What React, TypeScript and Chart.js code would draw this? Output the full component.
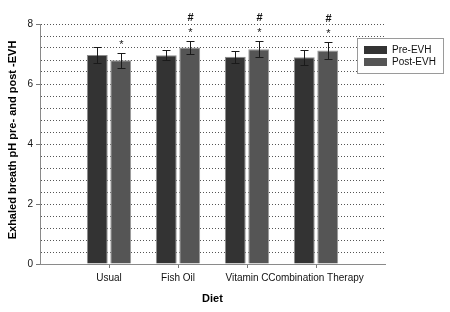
import React, { useEffect, useRef } from "react";
import { Chart, registerables } from "chart.js";

Chart.register(...registerables);

const categories = ["Usual", "Fish Oil", "Vitamin C", "Combination Therapy"];
const preEVH = [6.97, 6.96, 6.91, 6.89];
const postEVH = [6.79, 7.22, 7.16, 7.12];
const preErr = [0.26, 0.17, 0.2, 0.26];
const postErr = [0.26, 0.21, 0.26, 0.29];
const postStar = [true, true, true, true];
const postHash = [false, true, true, true];
const yTickLabels = [0, 2, 4, 6, 8];
const seriesNames = ["Pre-EVH", "Post-EVH"];
const xTitle = "Diet";
const yTitle = "Exhaled breath pH pre- and post -EVH";

const FONT = "'Liberation Sans', Arial, sans-serif";

export default function App() {
  const ref = useRef<HTMLCanvasElement | null>(null);

  useEffect(() => {
    document.body.style.margin = "0";
    const canvas = ref.current;
    if (!canvas) return;

    const labels = ["", ...categories, ""];
    const pad = (a: any[]) => [null, ...a, null];
    const errs = [pad(preErr), pad(postErr)];

    const overlay = {
      id: "overlay",
      afterDatasetsDraw(chart: any) {
        const ctx = chart.ctx;
        const y = chart.scales.y;
        ctx.save();
        chart.data.datasets.forEach((ds: any, di: number) => {
          const meta = chart.getDatasetMeta(di);
          meta.data.forEach((el: any, i: number) => {
            const v = ds.data[i];
            const e = errs[di][i];
            if (v == null || e == null) return;
            const x = Math.round(el.x) + 0.5;
            const yt = Math.round(y.getPixelForValue(v + e)) + 0.5;
            const yb = Math.round(y.getPixelForValue(v - e)) + 0.5;
            ctx.strokeStyle = "#1a1a1a";
            ctx.lineWidth = 1;
            ctx.beginPath();
            ctx.moveTo(x, yt);
            ctx.lineTo(x, yb);
            ctx.moveTo(x - 4, yt);
            ctx.lineTo(x + 4, yt);
            ctx.moveTo(x - 4, yb);
            ctx.lineTo(x + 4, yb);
            ctx.stroke();
            if (di === 1) {
              const k = i - 1;
              ctx.fillStyle = "#111";
              ctx.textAlign = "center";
              ctx.textBaseline = "middle";
              if (postStar[k]) {
                ctx.font = `11px ${FONT}`;
                ctx.fillText("*", x, yt - 9);
              }
              if (postHash[k]) {
                ctx.font = `bold 11px ${FONT}`;
                ctx.fillText("#", x, yt - 24);
              }
            }
          });
        });
        const ca = chart.chartArea;
        ctx.fillStyle = "#000";
        ctx.font = `bold 11px ${FONT}`;
        ctx.textAlign = "center";
        ctx.textBaseline = "middle";
        ctx.fillText(xTitle, (ca.left + ca.right) / 2, 299);
        ctx.save();
        ctx.translate(12.5, 140);
        ctx.rotate(-Math.PI / 2);
        ctx.fillText(yTitle, 0, 0);
        ctx.restore();
        const lx = 357.5, ly = 38.5, lw = 86, lh = 35;
        ctx.fillStyle = "#fff";
        ctx.fillRect(lx, ly, lw, lh);
        ctx.strokeStyle = "#9a9a9a";
        ctx.lineWidth = 1;
        ctx.strokeRect(lx, ly, lw, lh);
        chart.data.datasets.forEach((ds: any, di: number) => {
          const sy = 46 + di * 12;
          ctx.fillStyle = ds.backgroundColor;
          ctx.fillRect(364, sy, 23, 8);
          ctx.fillStyle = "#111";
          ctx.font = `10px ${FONT}`;
          ctx.textAlign = "left";
          ctx.textBaseline = "middle";
          ctx.fillText(ds.label, 392, sy + 4.5);
        });
        ctx.restore();
      },
    };

    const chart = new Chart(canvas, {
      type: "bar",
      data: {
        labels,
        datasets: [
          {
            label: seriesNames[0],
            data: pad(preEVH),
            backgroundColor: "#333333",
            borderColor: "#8c8c8c",
            borderWidth: 1,
          },
          {
            label: seriesNames[1],
            data: pad(postEVH),
            backgroundColor: "#555555",
            borderColor: "#999999",
            borderWidth: 1,
          },
        ],
      },
      options: {
        animation: false,
        responsive: true,
        maintainAspectRatio: false,
        datasets: {
          bar: { categoryPercentage: 0.68, barPercentage: 0.89 },
        } as any,
        layout: { padding: { top: 24, right: 65, left: 0, bottom: 0 } },
        plugins: {
          legend: { display: false },
          tooltip: { enabled: false },
          title: { display: false },
        },
        scales: {
          x: {
            type: "category",
            offset: false,
            grid: {
              offset: false,
              drawOnChartArea: false,
              drawTicks: true,
              tickLength: 4,
              tickColor: (c: any) =>
                c.index > 0 && c.index < labels.length - 1 ? "#777" : "rgba(0,0,0,0)",
            },
            border: { display: true, color: "#8a8a8a", width: 1 },
            ticks: {
              color: "#111",
              font: { family: FONT, size: 10 },
              maxRotation: 0,
              autoSkip: false,
              padding: 4,
            },
            afterFit: (s: any) => {
              s.height = 48;
            },
          },
          y: {
            min: 0,
            max: 8,
            grid: {
              color: (c: any) =>
                c.tick && Math.abs(c.tick.value) < 1e-6 ? "rgba(0,0,0,0)" : "#555",
              tickColor: (c: any) => {
                const v = c.tick ? c.tick.value : 0;
                return Math.abs(v / 2 - Math.round(v / 2)) < 1e-6 ? "#777" : "rgba(0,0,0,0)";
              },
              tickLength: 4,
              lineWidth: 1,
              tickBorderDash: [],
            } as any,
            border: { display: true, color: "#8a8a8a", width: 1, dash: [1, 2] } as any,
            afterBuildTicks: (s: any) => {
              const t = [];
              for (let i = 0; i <= 20; i++) t.push({ value: Math.round(i * 0.4 * 10) / 10 });
              s.ticks = t;
            },
            ticks: {
              color: "#111",
              font: { family: FONT, size: 10 },
              padding: 3,
              autoSkip: false,
              callback: (v: any) => {
                const n = Number(v);
                return yTickLabels.some((t) => Math.abs(t - n) < 1e-6) ? String(n) : "";
              },
            },
            afterFit: (s: any) => {
              s.width = 40;
            },
          },
        },
      },
      plugins: [overlay],
    });

    return () => chart.destroy();
  }, []);

  return (
    <div style={{ position: "relative", width: 450, height: 312 }}>
      <canvas ref={ref} />
    </div>
  );
}
